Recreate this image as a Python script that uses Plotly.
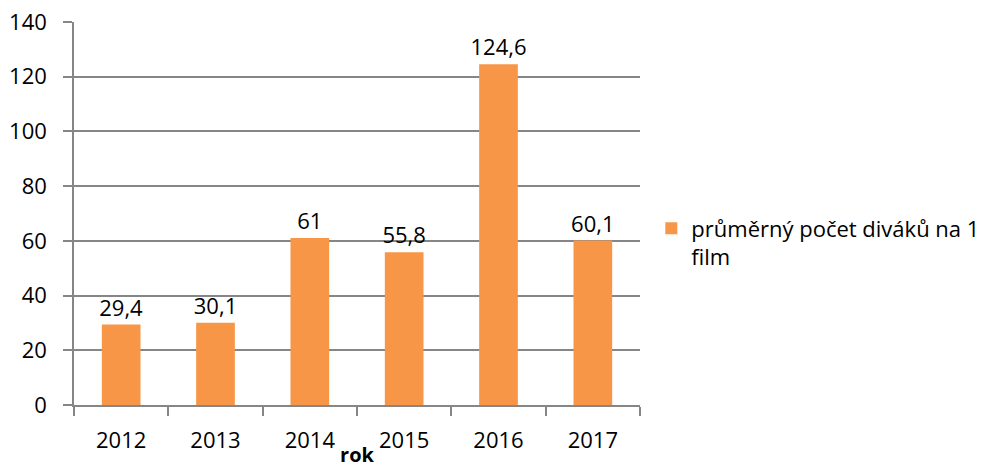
import plotly.graph_objects as go

years = ["2012", "2013", "2014", "2015", "2016", "2017"]
values = [29.4, 30.1, 61, 55.8, 124.6, 60.1]
labels = ["29,4", "30,1", "61", "55,8", "124,6", "60,1"]
series_name = "průměrný počet diváků na 1<br>film"
y_ticks = [0, 20, 40, 60, 80, 100, 120, 140]

FONT = "Open Sans, Liberation Sans, sans-serif"
GRID = "#868686"

fig = go.Figure()
fig.add_trace(go.Bar(
    x=years, y=values, name=series_name,
    marker=dict(color="#F79646", line=dict(width=0)),
    text=labels, textposition="outside", cliponaxis=False,
    constraintext="none",
    textfont=dict(size=22, color="#000000", family=FONT),
    width=0.41,
))

fig.update_layout(
    width=993, height=468,
    margin=dict(l=74, r=353, t=22, b=63, autoexpand=False),
    paper_bgcolor="white", plot_bgcolor="white",
    font=dict(family=FONT, size=22, color="#000000"),
    showlegend=True,
    legend=dict(x=1.02, y=0.423, xanchor="left", yanchor="middle",
                font=dict(size=22, color="#000000", family=FONT),
                valign="top"),
    xaxis=dict(
        type="category", automargin=False,
        showline=True, linecolor=GRID, linewidth=1.5,
        ticks="outside", ticklen=9, tickcolor=GRID, tickwidth=1.5,
        tickson="boundaries", ticklabelstandoff=15,
        ticklabeloverflow="allow",
        tickfont=dict(size=22, family=FONT),
        title=dict(text="<b>rok</b>", font=dict(size=20, family=FONT), standoff=0),
        showgrid=False,
    ),
    yaxis=dict(
        range=[0, 140], tickvals=y_ticks, automargin=False,
        showline=True, linecolor=GRID, linewidth=1.5,
        ticks="outside", ticklen=9, tickcolor=GRID, tickwidth=1.5,
        ticklabelstandoff=12, ticklabeloverflow="allow",
        showgrid=True, gridcolor=GRID, gridwidth=1.5,
        zeroline=False,
        tickfont=dict(size=22, family=FONT),
    ),
)

fig.write_html("out.html", config={"displayModeBar": False},
               post_script="document.body.style.margin='0px';")
